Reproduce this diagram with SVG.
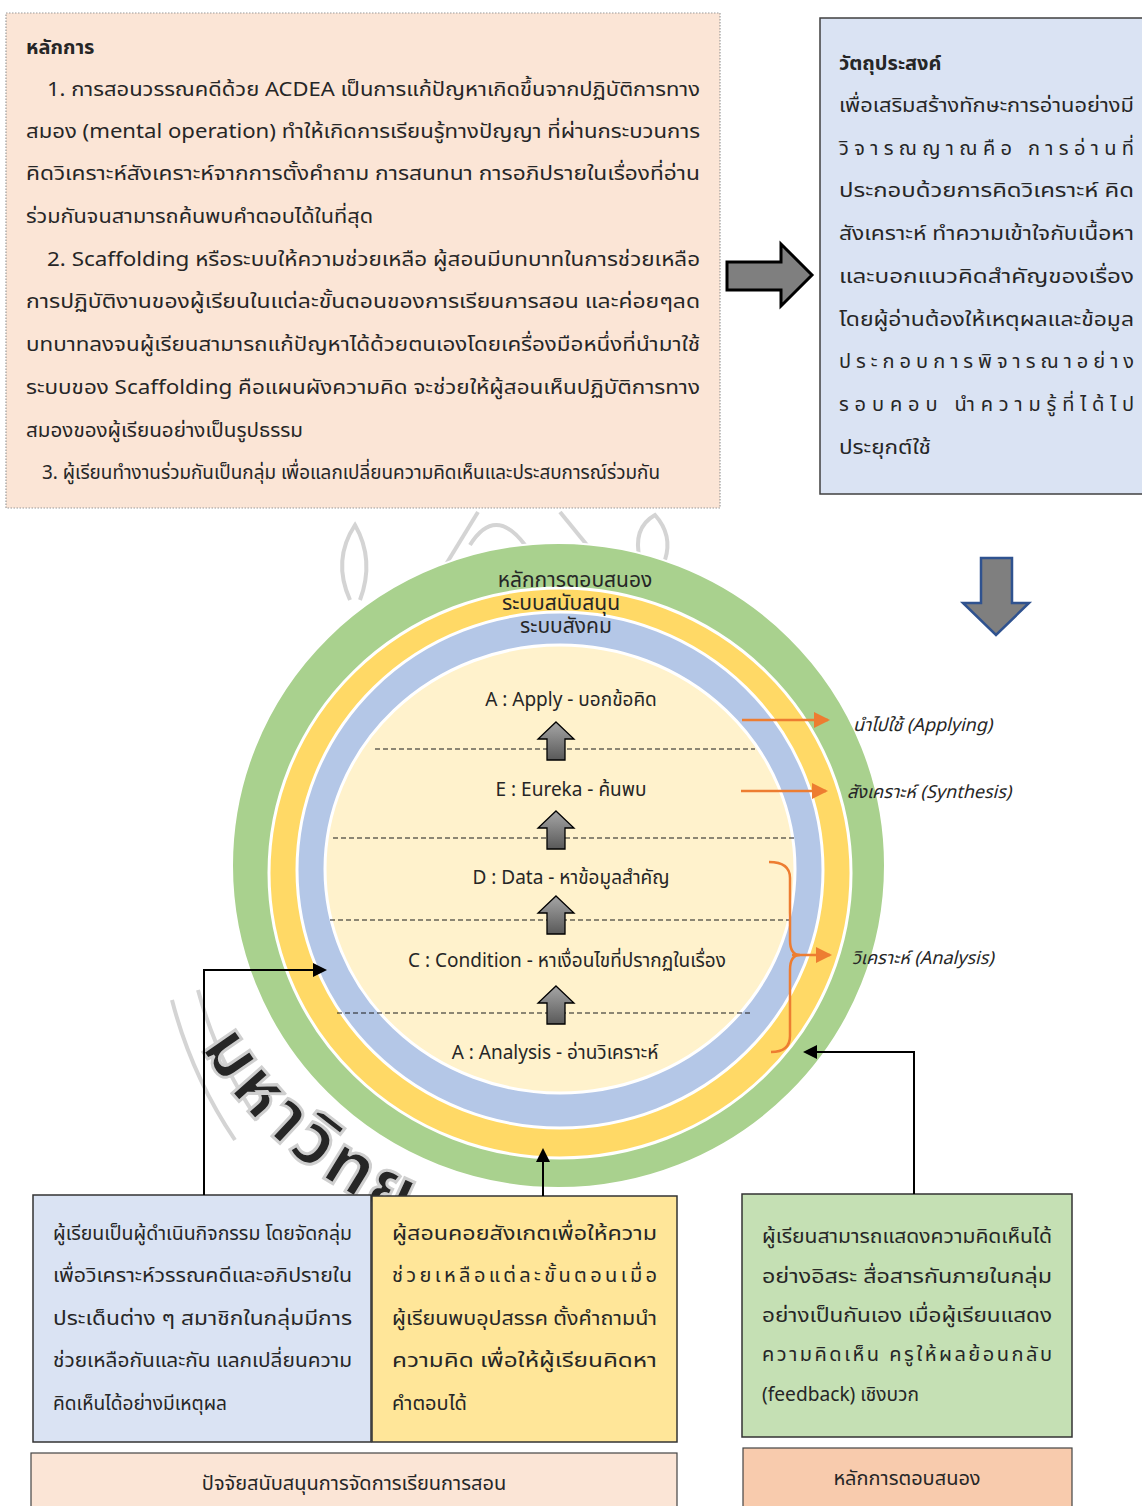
<svg xmlns="http://www.w3.org/2000/svg" width="1142" height="1506" viewBox="0 0 1142 1506">
<style>
text{font-family:"Noto Sans Thai","Noto Sans Thai UI","Leelawadee UI",Tahoma,"DejaVu Sans","Noto Sans",sans-serif;fill:#262626;}
.body{font-size:20px;}
.title{font-size:20px;font-weight:bold;}
.step{font-size:19px;}
.ring{font-size:21px;}
.ital{font-size:18px;font-style:italic;}
.dash{stroke:#1a1a1a;stroke-width:1.2;stroke-dasharray:5,3;fill:none;}
.conn{stroke:#000;stroke-width:2;fill:none;}
.orange{stroke:#ed7d31;stroke-width:2.5;fill:none;}
.wm{fill:none;stroke:#d4d4d4;stroke-width:4;}
</style>
<defs>
<marker id="ahb" markerWidth="14" markerHeight="14" refX="12" refY="7" orient="auto" markerUnits="userSpaceOnUse" viewBox="0 0 14 14"><path d="M0,0 L14,7 L0,14 Z" fill="#000"/></marker>
<marker id="aho" markerWidth="16" markerHeight="16" refX="14" refY="8" orient="auto" markerUnits="userSpaceOnUse" viewBox="0 0 16 16"><path d="M0,0 L16,8 L0,16 Z" fill="#ed7d31"/></marker>
<linearGradient id="gg" x1="0" y1="0" x2="0" y2="1"><stop offset="0" stop-color="#a6a6a6"/><stop offset="1" stop-color="#595959"/></linearGradient>
<path id="up" d="M0,0 L18,17 L9,17 L9,38 L-9,38 L-9,17 L-18,17 Z" fill="url(#gg)" stroke="#000" stroke-width="1.3"/>
<path id="wmpath" d="M140,830 A420,420 0 0 0 770,1194"/>
</defs>
<rect width="1142" height="1506" fill="#fff"/>

<g id="watermark">
<path class="wm" d="M172,1000 A450,450 0 0 0 235,1140"/>
<path class="wm" d="M198,990 A425,425 0 0 0 258,1120"/>
<path class="wm" d="M415,615 L478,512"/>
<path class="wm" d="M560,512 L640,610"/>
<path class="wm" d="M470,545 Q495,505 525,545"/>
<path class="wm" d="M350,600 Q332,560 355,525 Q375,560 360,600"/>
<path class="wm" d="M640,560 Q632,528 655,515 Q673,535 665,560"/>
<text font-size="72" font-weight="bold" fill="#fff" stroke="#cfcfcf" stroke-width="3" letter-spacing="4"><textPath href="#wmpath" startOffset="228">มหาวิทย</textPath></text>
</g>

<g id="box-principles">
<rect x="6" y="13" width="714" height="495" fill="#fbe5d6" stroke="#9a9a9a" stroke-width="1.2" stroke-dasharray="1.5,1.5"/>
<text class="title" x="26" y="54">หลักการ</text>
<text class="body" x="47" y="96" textLength="653" lengthAdjust="spacingAndGlyphs">1. การสอนวรรณคดีด้วย ACDEA เป็นการแก้ปัญหาเกิดขึ้นจากปฏิบัติการทาง</text>
<text class="body" x="26" y="138" textLength="674" lengthAdjust="spacingAndGlyphs">สมอง (mental operation) ทำให้เกิดการเรียนรู้ทางปัญญา ที่ผ่านกระบวนการ</text>
<text class="body" x="26" y="180" textLength="674" lengthAdjust="spacingAndGlyphs">คิดวิเคราะห์สังเคราะห์จากการตั้งคำถาม การสนทนา การอภิปรายในเรื่องที่อ่าน</text>
<text class="body" x="26" y="223" textLength="347" lengthAdjust="spacingAndGlyphs">ร่วมกันจนสามารถค้นพบคำตอบได้ในที่สุด</text>
<text class="body" x="47" y="266" textLength="653" lengthAdjust="spacingAndGlyphs">2. Scaffolding หรือระบบให้ความช่วยเหลือ ผู้สอนมีบทบาทในการช่วยเหลือ</text>
<text class="body" x="26" y="308" textLength="674" lengthAdjust="spacingAndGlyphs">การปฏิบัติงานของผู้เรียนในแต่ละขั้นตอนของการเรียนการสอน และค่อยๆลด</text>
<text class="body" x="26" y="351" textLength="674" lengthAdjust="spacingAndGlyphs">บทบาทลงจนผู้เรียนสามารถแก้ปัญหาได้ด้วยตนเองโดยเครื่องมือหนึ่งที่นำมาใช้</text>
<text class="body" x="26" y="394" textLength="674" lengthAdjust="spacingAndGlyphs">ระบบของ Scaffolding  คือแผนผังความคิด จะช่วยให้ผู้สอนเห็นปฏิบัติการทาง</text>
<text class="body" x="26" y="437" textLength="277" lengthAdjust="spacingAndGlyphs">สมองของผู้เรียนอย่างเป็นรูปธรรม</text>
<text class="body" x="42" y="479" textLength="618" lengthAdjust="spacingAndGlyphs">3. ผู้เรียนทำงานร่วมกันเป็นกลุ่ม เพื่อแลกเปลี่ยนความคิดเห็นและประสบการณ์ร่วมกัน</text>
</g>

<g id="box-objective">
<rect x="820" y="18" width="330" height="476" fill="#dae3f3" stroke="#404040" stroke-width="1.5"/>
<text class="title" x="839" y="70">วัตถุประสงค์</text>
<text class="body" x="839" y="112" textLength="295" lengthAdjust="spacingAndGlyphs">เพื่อเสริมสร้างทักษะการอ่านอย่างมี</text>
<text class="body" x="839" y="155" textLength="295" lengthAdjust="spacing">วิจารณญาณคือ การอ่านที่</text>
<text class="body" x="839" y="197" textLength="295" lengthAdjust="spacingAndGlyphs">ประกอบด้วยการคิดวิเคราะห์ คิด</text>
<text class="body" x="839" y="240" textLength="295" lengthAdjust="spacingAndGlyphs">สังเคราะห์ ทำความเข้าใจกับเนื้อหา</text>
<text class="body" x="839" y="283" textLength="295" lengthAdjust="spacingAndGlyphs">และบอกแนวคิดสำคัญของเรื่อง</text>
<text class="body" x="839" y="326" textLength="295" lengthAdjust="spacingAndGlyphs">โดยผู้อ่านต้องให้เหตุผลและข้อมูล</text>
<text class="body" x="839" y="368" textLength="295" lengthAdjust="spacing">ประกอบการพิจารณาอย่าง</text>
<text class="body" x="839" y="411" textLength="295" lengthAdjust="spacing">รอบคอบ นำความรู้ที่ได้ไป</text>
<text class="body" x="839" y="454" textLength="92" lengthAdjust="spacingAndGlyphs">ประยุกต์ใช้</text>
</g>

<g id="arrow-right">
<path d="M727,262 L781,262 L781,244 L812,275 L781,306 L781,290 L727,290 Z" fill="#7f7f7f" stroke="#000" stroke-width="3"/>
</g>
<g id="arrow-down">
<path d="M981,558 L1012,558 L1012,603 L1029,603 L996,635 L963,603 L981,603 Z" fill="#7f7f7f" stroke="#2f528f" stroke-width="2.5"/>
</g>

<g id="model">
<ellipse cx="558.5" cy="865.5" rx="326.5" ry="322.5" fill="#a9d18e" stroke="#fff" stroke-width="2"/>
<ellipse cx="560" cy="873" rx="291" ry="285" fill="#ffd966" stroke="#fff" stroke-width="3"/>
<ellipse cx="560" cy="870" rx="263" ry="258" fill="#b4c7e7" stroke="#fff" stroke-width="3"/>
<ellipse cx="560" cy="869" rx="235" ry="224" fill="#fff2cc" stroke="#fff" stroke-width="3"/>
<text class="ring" x="575" y="587" text-anchor="middle">หลักการตอบสนอง</text>
<text class="ring" x="561" y="610" text-anchor="middle">ระบบสนับสนุน</text>
<text class="ring" x="566" y="633" text-anchor="middle">ระบบสังคม</text>
<path class="dash" d="M375,749 H755"/>
<path class="dash" d="M333,838 H795"/>
<path class="dash" d="M330,920 H790"/>
<path class="dash" d="M337,1013 H752"/>
<use href="#up" x="556" y="722"/>
<use href="#up" x="556" y="811"/>
<use href="#up" x="556" y="896"/>
<use href="#up" x="556" y="986"/>
</g>
<g id="step-apply"><text class="step" x="571" y="706" text-anchor="middle">A : Apply - บอกข้อคิด</text></g>
<g id="step-eureka"><text class="step" x="571" y="796" text-anchor="middle">E : Eureka - ค้นพบ</text></g>
<g id="step-data"><text class="step" x="571" y="884" text-anchor="middle">D : Data - หาข้อมูลสำคัญ</text></g>
<g id="step-condition"><text class="step" x="567" y="967" text-anchor="middle">C : Condition - หาเงื่อนไขที่ปรากฏในเรื่อง</text></g>
<g id="step-analysis"><text class="step" x="555" y="1059" text-anchor="middle">A :  Analysis - อ่านวิเคราะห์</text></g>

<g id="label-applying"><text class="ital" x="853" y="731">นำไปใช้ (Applying)</text></g>
<g id="label-synthesis"><text class="ital" x="847" y="798">สังเคราะห์ (Synthesis)</text></g>
<g id="label-analysis"><text class="ital" x="852" y="964">วิเคราะห์ (Analysis)</text></g>

<g id="box-social">
<rect x="33" y="1195" width="338" height="247" fill="#dae3f3" stroke="#333" stroke-width="1.5"/>
<text class="body" x="53" y="1240" textLength="299" lengthAdjust="spacingAndGlyphs">ผู้เรียนเป็นผู้ดำเนินกิจกรรม โดยจัดกลุ่ม</text>
<text class="body" x="53" y="1282" textLength="299" lengthAdjust="spacingAndGlyphs">เพื่อวิเคราะห์วรรณคดีและอภิปรายใน</text>
<text class="body" x="53" y="1325" textLength="299" lengthAdjust="spacingAndGlyphs">ประเด็นต่าง ๆ  สมาชิกในกลุ่มมีการ</text>
<text class="body" x="53" y="1367" textLength="299" lengthAdjust="spacingAndGlyphs">ช่วยเหลือกันและกัน แลกเปลี่ยนความ</text>
<text class="body" x="53" y="1410" textLength="174" lengthAdjust="spacingAndGlyphs">คิดเห็นได้อย่างมีเหตุผล</text>
</g>

<g id="box-support">
<rect x="372" y="1196" width="305" height="246" fill="#ffe699" stroke="#333" stroke-width="1.5"/>
<text class="body" x="392" y="1240" textLength="265" lengthAdjust="spacingAndGlyphs">ผู้สอนคอยสังเกตเพื่อให้ความ</text>
<text class="body" x="392" y="1282" textLength="265" lengthAdjust="spacing">ช่วยเหลือแต่ละขั้นตอนเมื่อ</text>
<text class="body" x="392" y="1325" textLength="265" lengthAdjust="spacingAndGlyphs">ผู้เรียนพบอุปสรรค ตั้งคำถามนำ</text>
<text class="body" x="392" y="1367" textLength="265" lengthAdjust="spacingAndGlyphs">ความคิด เพื่อให้ผู้เรียนคิดหา</text>
<text class="body" x="392" y="1410">คำตอบได้</text>
</g>

<g id="box-response">
<rect x="742" y="1194" width="330" height="243" fill="#c5e0b4" stroke="#333" stroke-width="1.5"/>
<text class="body" x="762" y="1243" textLength="290" lengthAdjust="spacingAndGlyphs">ผู้เรียนสามารถแสดงความคิดเห็นได้</text>
<text class="body" x="762" y="1283" textLength="290" lengthAdjust="spacingAndGlyphs">อย่างอิสระ สื่อสารกันภายในกลุ่ม</text>
<text class="body" x="762" y="1322" textLength="290" lengthAdjust="spacingAndGlyphs">อย่างเป็นกันเอง เมื่อผู้เรียนแสดง</text>
<text class="body" x="762" y="1361" textLength="290" lengthAdjust="spacing">ความคิดเห็น ครูให้ผลย้อนกลับ</text>
<text class="body" x="762" y="1401" textLength="157" lengthAdjust="spacingAndGlyphs">(feedback) เชิงบวก</text>
</g>

<g id="box-factors">
<rect x="31" y="1453" width="646" height="60" fill="#fbe5d6" stroke="#444" stroke-width="1.2"/>
<text class="body" x="354" y="1490" text-anchor="middle">ปัจจัยสนับสนุนการจัดการเรียนการสอน</text>
</g>
<g id="box-response-principle">
<rect x="743" y="1448" width="329" height="65" fill="#f8cbad" stroke="#444" stroke-width="1.2"/>
<text class="body" x="907" y="1485" text-anchor="middle">หลักการตอบสนอง</text>
</g>

<g id="connectors">
<path class="orange" d="M742,720 H828" marker-end="url(#aho)"/>
<path class="orange" d="M741,791 H826" marker-end="url(#aho)"/>
<path class="orange" stroke-width="1.5" d="M769,862 Q790,862 790,878 L790,940 Q790,955 800,955 Q790,955 790,970 L790,1036 Q790,1052 771,1052"/>
<path class="orange" d="M792,955 H830" marker-end="url(#aho)"/>
<path class="conn" d="M204,1195 V970 H325" marker-end="url(#ahb)"/>
<path class="conn" d="M543,1196 V1150" marker-end="url(#ahb)"/>
<path class="conn" d="M914,1194 V1052 H805" marker-end="url(#ahb)"/>
</g>
</svg>
